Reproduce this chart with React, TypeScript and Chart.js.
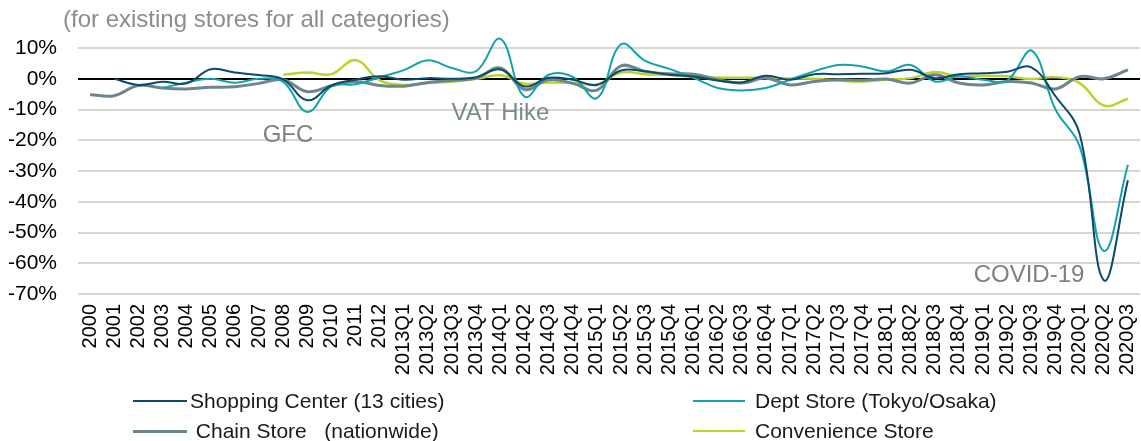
import React, { useEffect, useRef } from 'react';
import { Chart, registerables } from 'chart.js';

Chart.register(...registerables);

const FONT = '"Liberation Sans", Arial, Helvetica, sans-serif';

const categories = [
  '2000', '2001', '2002', '2003', '2004', '2005', '2006', '2007', '2008', '2009', '2010', '2011', '2012',
  '2013Q1', '2013Q2', '2013Q3', '2013Q4', '2014Q1', '2014Q2', '2014Q3', '2014Q4',
  '2015Q1', '2015Q2', '2015Q3', '2015Q4', '2016Q1', '2016Q2', '2016Q3', '2016Q4',
  '2017Q1', '2017Q2', '2017Q3', '2017Q4', '2018Q1', '2018Q2', '2018Q3', '2018Q4',
  '2019Q1', '2019Q2', '2019Q3', '2019Q4', '2020Q1', '2020Q2', '2020Q3',
];

const shoppingCenter = [
  null, 0, -2, -1, -1.5, 3.1, 2.0, 1.2, -0.2, -7, -2.2, -0.3, 0.8,
  -0.3, 0.2, 0, 0.5, 3, -2.5, 0.3, -0.3,
  -2, 2.7, 2.4, 1.3, 0.7, -0.6, -1.2, 1,
  -0.3, 1.5, 1.5, 1.6, 1.8, 2.9, 0.2, 1.5,
  1.8, 2.3, 3.7, -5.7, -18, -65.5, -33,
];

const deptStore = [
  null, null, null, -3, -1.2, 0, -1.3, 0, -1, -10.8, -2.5, -1.8, 0.5,
  2.8, 6, 3.5, 2.5, 13, -5.8, 1.3, 0.6,
  -6.3, 11.2, 5.8, 3.2, 0.3, -3, -3.8, -3,
  -0.3, 2.4, 4.5, 4, 2.4, 4.5, -0.9, 0.8,
  -0.3, -0.5, 9.2, -10, -22, -56, -28,
];

const chainStore = [
  -5.2, -5.5, -2.2, -3, -3.3, -2.8, -2.6, -1.5, -0.3, -4.2, -2.3, -0.9, -2.2,
  -2.4, -1.2, -0.6, 0.2, 3.5, -3.5, -0.3, -1.5,
  -3.7, 4.2, 2.4, 1.6, 1.5, -0.3, -1.4, 0.2,
  -2, -0.9, -0.3, -0.5, -0.1, -1.4, 1.3, -1.4,
  -2, -0.9, -1.4, -3.3, 0.7, 0, 2.9,
];

const convenienceStore = [
  null, null, null, null, null, null, null, null, 1.3, 2, 1.5, 6.1, -0.5,
  -2, -1.4, -0.9, 0, 1.1, -1.6, -1.2, -1.4,
  -1.8, 2, 1.5, 1.2, 0.6, 0.4, 0.3, 0.3,
  0.1, 0, -0.6, -0.9, -0.3, 0.2, 2.2, 0.7,
  1, 0.8, -0.1, 0.5, -1.4, -8.7, -6.5,
];

const seriesNames = [
  'Shopping Center (13 cities)',
  'Dept Store (Tokyo/Osaka)',
  ' Chain Store   (nationwide)',
  'Convenience Store',
];
const seriesColors = ['#0b4a6b', '#14a2ad', '#6e858c', '#bcd42a'];
const seriesWidths = [2, 2, 3, 2.5];

const yTicks = [10, 0, -10, -20, -30, -40, -50, -60, -70];

const titleText = '(for existing stores for all categories)';

const annotationLabels = ['GFC', 'VAT Hike', 'COVID-19'];
const annotationX = [8.2, 17, 38.9];
const annotationY = [-18.3, -11.4, -64];
const annotationColors = ['#808080', '#7a8b90', '#808080'];

const annotationPlugin = {
  id: 'textAnnotations',
  afterDatasetsDraw(chart: any) {
    const { ctx, scales } = chart;
    const xs = scales.x;
    const ys = scales.y;
    ctx.save();
    ctx.font = `24px ${FONT}`;
    ctx.textAlign = 'center';
    ctx.textBaseline = 'middle';
    annotationLabels.forEach((t, i) => {
      ctx.fillStyle = annotationColors[i];
      ctx.fillText(t, xs.getPixelForValue(annotationX[i]), ys.getPixelForValue(annotationY[i]));
    });
    ctx.restore();
  },
};

const legendPos = [
  { left: 133, top: 401, line: 54, gap: 3 },
  { left: 693, top: 401, line: 52, gap: 10 },
  { left: 133, top: 431, line: 54, gap: 3 },
  { left: 693, top: 431, line: 52, gap: 10 },
];

export default function App() {
  const canvasRef = useRef<HTMLCanvasElement | null>(null);

  useEffect(() => {
    const canvas = canvasRef.current;
    if (!canvas) return;
    const seriesData = [shoppingCenter, deptStore, chainStore, convenienceStore];
    const chart = new Chart(canvas, {
      type: 'line',
      data: {
        labels: categories,
        datasets: seriesData.map((d, i) => ({
          label: seriesNames[i],
          data: d,
          borderColor: seriesColors[i],
          backgroundColor: seriesColors[i],
          borderWidth: seriesWidths[i],
          pointRadius: 0,
          tension: 0.4,
          fill: false,
          clip: false,
        })),
      },
      options: {
        responsive: false,
        maintainAspectRatio: false,
        animation: false,
        devicePixelRatio: 1,
        layout: { padding: { left: 0, right: 1, top: 48, bottom: 0 } },
        plugins: {
          legend: { display: false },
          tooltip: { enabled: false },
          title: { display: false },
        },
        scales: {
          x: {
            type: 'category',
            offset: true,
            grid: { display: false, drawTicks: false },
            border: { display: false },
            ticks: {
              autoSkip: false,
              minRotation: 90,
              maxRotation: 90,
              padding: 10,
              color: '#000',
              font: { family: FONT, size: 20 },
            },
            afterFit: (s: any) => {
              s.height = 441 - 294;
              s.paddingLeft = 0;
              s.paddingRight = 0;
            },
          },
          y: {
            min: -70,
            max: 10,
            afterBuildTicks: (s: any) => {
              s.ticks = yTicks.map((v) => ({ value: v }));
            },
            ticks: {
              padding: 21,
              color: '#000',
              font: { family: FONT, size: 21 },
              callback: (v: any) => `${v}%`,
            },
            grid: {
              drawTicks: false,
              lineWidth: 2,
              color: (c: any) => (c.tick && c.tick.value === 0 ? '#000000' : '#d9d6d0'),
            },
            border: { display: false },
            afterFit: (s: any) => {
              s.width = 78;
            },
          },
        },
      },
      plugins: [annotationPlugin],
    } as any);
    return () => chart.destroy();
  }, []);

  return (
    <div style={{ position: 'absolute', left: 0, top: 0, width: 1141, height: 441, background: '#fff', fontFamily: FONT }}>
      <canvas ref={canvasRef} width={1141} height={441} style={{ position: 'absolute', left: 0, top: 0, width: 1141, height: 441 }} />
      <div style={{ position: 'absolute', left: 63, top: 6, fontSize: 24, lineHeight: '26px', color: '#8c8c8c', whiteSpace: 'pre' }}>
        {titleText}
      </div>
      {legendPos.map((p, i) => (
        <div
          key={i}
          style={{
            position: 'absolute',
            left: p.left,
            top: p.top - 15,
            height: 30,
            display: 'flex',
            alignItems: 'center',
          }}
        >
          <div style={{ width: p.line, height: seriesWidths[i] > 2.5 ? 3 : 2, background: seriesColors[i] }} />
          <span style={{ marginLeft: p.gap, fontSize: 21, color: '#1a1a1a', whiteSpace: 'pre', lineHeight: '24px' }}>
            {seriesNames[i]}
          </span>
        </div>
      ))}
    </div>
  );
}
